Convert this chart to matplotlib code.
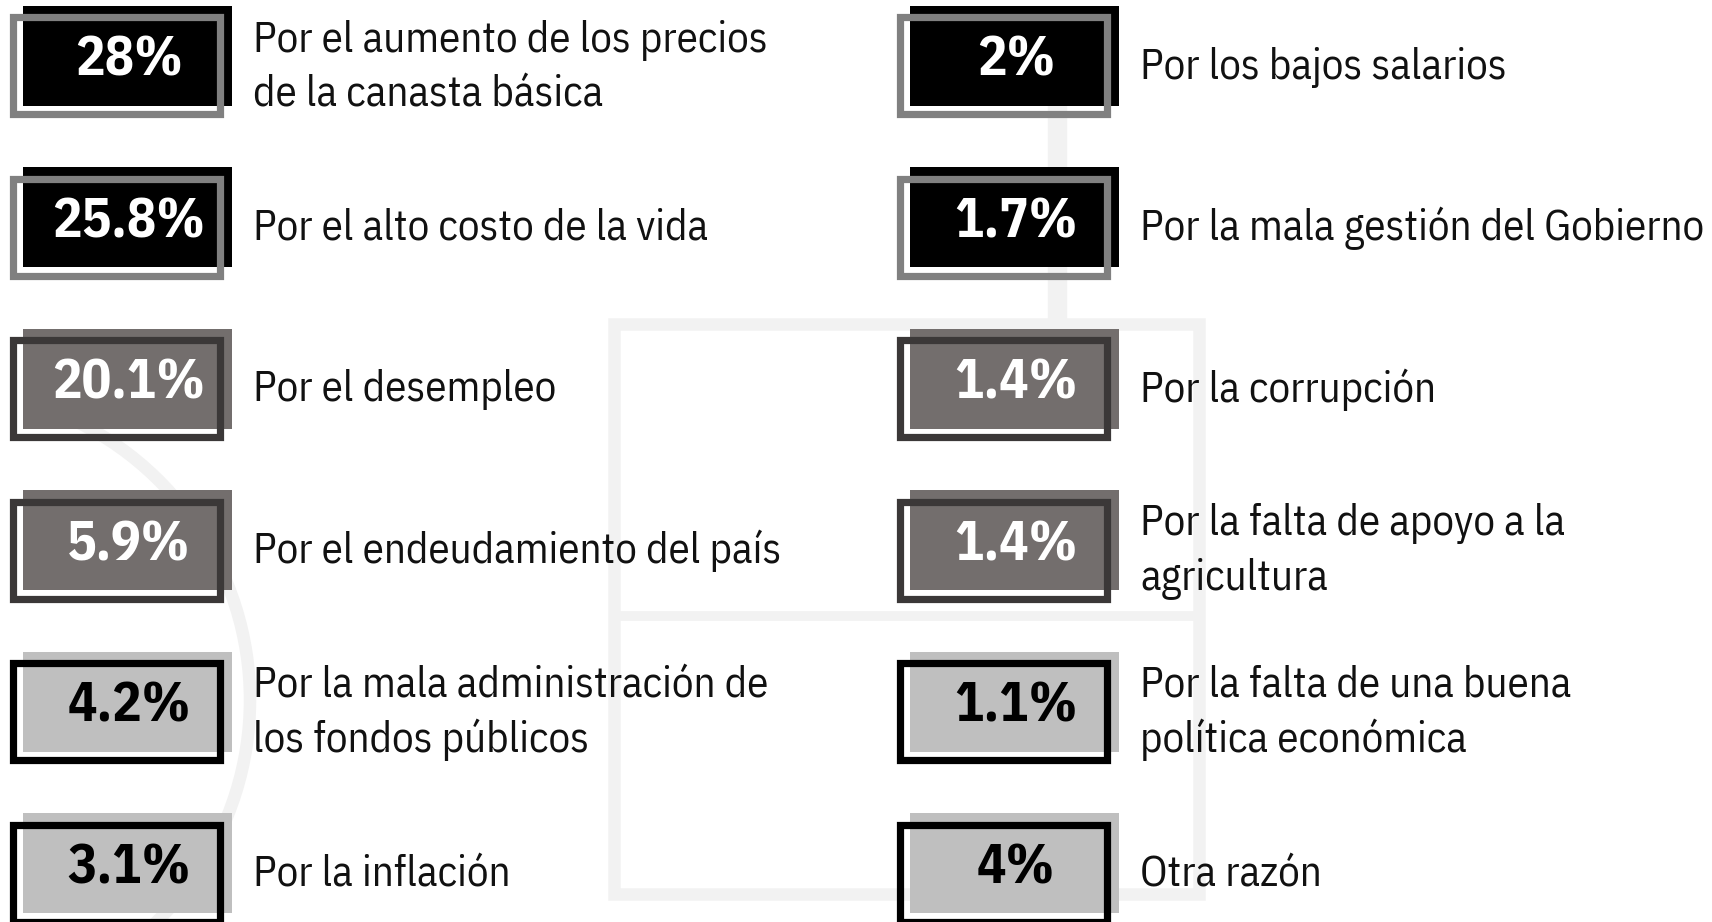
import matplotlib.pyplot as plt
from matplotlib.patches import Rectangle, Arc

left_values = [28, 25.8, 20.1, 5.9, 4.2, 3.1]
left_labels = [
    "Por el aumento de los precios\nde la canasta básica",
    "Por el alto costo de la vida",
    "Por el desempleo",
    "Por el endeudamiento del país",
    "Por la mala administración de\nlos fondos públicos",
    "Por la inflación",
]
right_values = [2, 1.7, 1.4, 1.4, 1.1, 4]
right_labels = [
    "Por los bajos salarios",
    "Por la mala gestión del Gobierno",
    "Por la corrupción",
    "Por la falta de apoyo a la\nagricultura",
    "Por la falta de una buena\npolítica económica",
    "Otra razón",
]

# style per row tier
fill_colors = ["#000000", "#000000", "#736e6d", "#736e6d", "#bfbfbf", "#bfbfbf"]
edge_colors = ["#808080", "#808080", "#3b3838", "#3b3838", "#000000", "#000000"]
text_colors = ["white", "white", "white", "white", "black", "black"]

W, H = 1712, 922
fig = plt.figure(figsize=(W / 100, H / 100), dpi=100)
ax = fig.add_axes([0, 0, 1, 1])
ax.set_xlim(0, W)
ax.set_ylim(H, 0)
ax.axis("off")

fonts = ["IBM Plex Sans Condensed", "PT Sans Narrow", "DejaVu Sans"]

# faint watermark in the background
wm = "#f2f2f2"
ax.add_patch(Rectangle((614, 324), 585, 570, fill=False, ec=wm, lw=9, zorder=0))
ax.plot([614, 1199], [616, 616], color=wm, lw=7, zorder=0)
ax.plot([1057, 1057], [100, 324], color=wm, lw=14, zorder=0)
ax.add_patch(Arc((-60, 700), 620, 620, theta1=-70, theta2=70, ec=wm, lw=9, zorder=0))

row_step = 161.4
col_step = 887
for col, (vals, labs) in enumerate([(left_values, left_labels), (right_values, right_labels)]):
    x0 = 23 + col * col_step
    for i, (v, lab) in enumerate(zip(vals, labs)):
        top = 6 + i * row_step
        ax.add_patch(Rectangle((x0, top), 209, 100, fc=fill_colors[i], ec="none", zorder=1))
        ax.add_patch(Rectangle((x0 - 9.5, top + 11.5), 207, 97, fill=False,
                               ec=edge_colors[i], lw=5.2, zorder=2))
        ax.text(x0 + 106, top + 55, f"{v:g}%", family=fonts, weight="bold",
                fontsize=39.5, color=text_colors[i], ha="center", va="center", zorder=3)
        ax.text(x0 + 230, top + 61, lab, family=fonts, fontsize=31, color="#111111",
                ha="left", va="center", linespacing=1.4, zorder=3)

fig.savefig("out.png", dpi=100)
